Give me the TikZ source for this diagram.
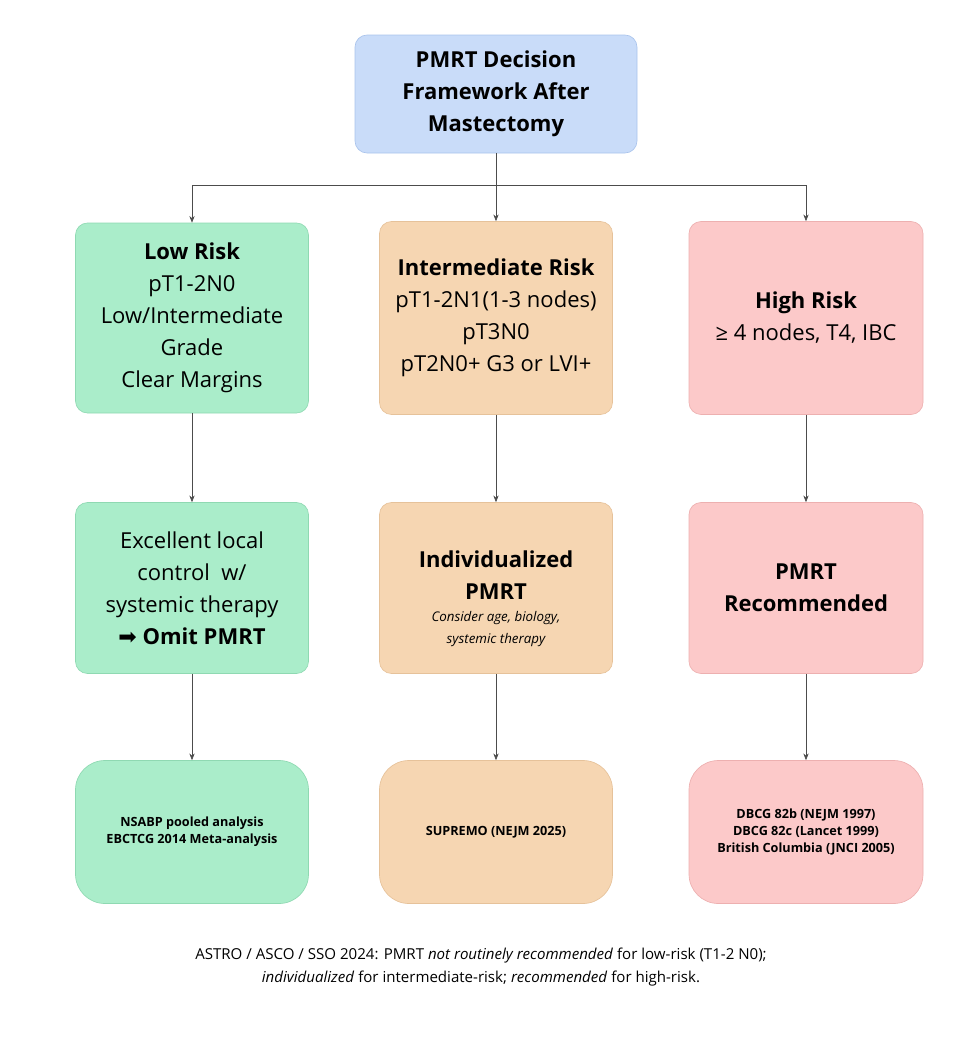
\documentclass[tikz,border=0pt]{standalone}
\usepackage{fontspec}
\setmainfont{Open Sans}
\usetikzlibrary{arrows.meta}
\definecolor{bl}{HTML}{C9DCF9}\definecolor{blb}{HTML}{A9C3EC}
\definecolor{gr}{HTML}{AAEDCA}\definecolor{grb}{HTML}{8FD9B2}
\definecolor{orf}{HTML}{F6D6B2}\definecolor{orb}{HTML}{E6C29A}
\definecolor{pk}{HTML}{FCC9C9}\definecolor{pkb}{HTML}{EDB0B0}
\newcommand\bigf{\fontsize{16.5}{24}\selectfont}
\newcommand\smf{\fontsize{10}{16.5}\selectfont}
\begin{document}
\begin{tikzpicture}[x=0.75pt,y=-0.75pt,
 box/.style={draw,rounded corners=9pt,align=center,inner sep=0pt,line width=0.5pt},
 ev/.style={box,rounded corners=22pt,font=\fontsize{9.5}{13}\selectfont\bfseries},
 main/.style={font=\bigf},
 sz/.style 2 args={minimum width=0.75*#1pt,minimum height=0.75*#2pt},
 arr/.style={-{Stealth[length=5pt,width=4pt]},draw=black!70,line width=0.5pt}]
\useasboundingbox (0,0) rectangle (963,1050);
\node[box,fill=bl,draw=blb,sz={282}{118},font=\bigf\bfseries] (top) at (496,94) {PMRT Decision\\Framework After\\Mastectomy};
\node[box,fill=gr,draw=grb,sz={233}{190},main] (low) at (192,318) {\textbf{Low Risk}\\pT1-2N0\\Low/Intermediate\\Grade\\Clear Margins};
\node[box,fill=orf,draw=orb,sz={233}{193},main] (mid) at (496,318) {\textbf{Intermediate Risk}\\pT1-2N1(1-3 nodes)\\pT3N0\\pT2N0+ G3 or LVI+};
\node[box,fill=pk,draw=pkb,sz={234}{193},main] (high) at (806,318) {\textbf{High Risk}\\≥ 4 nodes, T4, IBC};
\node[box,fill=gr,draw=grb,sz={233}{171},main] (low2) at (192,588) {Excellent local\\control~ w/\\systemic therapy\\{\fontspec{DejaVu Sans}➡} \textbf{Omit PMRT}};
\node[box,fill=orf,draw=orb,sz={233}{171},label={[font=\bigf,align=center,yshift=-9pt]center:\textbf{Individualized}\\\textbf{PMRT}\\{\smf\itshape\begin{tabular}{@{}c@{}}Consider age, biology,\\systemic therapy\end{tabular}}}] (mid2) at (496,588) {};
\node[box,fill=pk,draw=pkb,sz={234}{171},font=\bigf\bfseries] (high2) at (806,588) {PMRT\\Recommended};
\node[ev,fill=gr,draw=grb,sz={233}{143}] (low3) at (192,832) {NSABP pooled analysis\\EBCTCG 2014 Meta-analysis};
\node[ev,fill=orf,draw=orb,sz={233}{143}] (mid3) at (496,832) {SUPREMO (NEJM 2025)};
\node[ev,fill=pk,draw=pkb,sz={234}{143}] (high3) at (806,832) {DBCG 82b (NEJM 1997)\\DBCG 82c (Lancet 1999)\\British Columbia (JNCI 2005)};
\coordinate (j) at (496,185);
\draw[draw=black!70,line width=0.5pt] (top.south) -- (j);
\draw[arr] (j) -| (low.north);
\draw[arr] (j) -- (mid.north);
\draw[arr] (j) -| (high.north);
\foreach \a/\b in {low/low2,mid/mid2,high/high2,low2/low3,mid2/mid3,high2/high3}\draw[arr] (\a.south) -- (\b.north);
\node[align=center,font=\fontsize{11.3}{17.5}\selectfont] (note) at (481,967) {ASTRO / ASCO / SSO 2024: PMRT \textit{not routinely recommended} for low-risk (T1-2 N0);\\\textit{individualized} for intermediate-risk; \textit{recommended} for high-risk.};
\end{tikzpicture}
\end{document}
